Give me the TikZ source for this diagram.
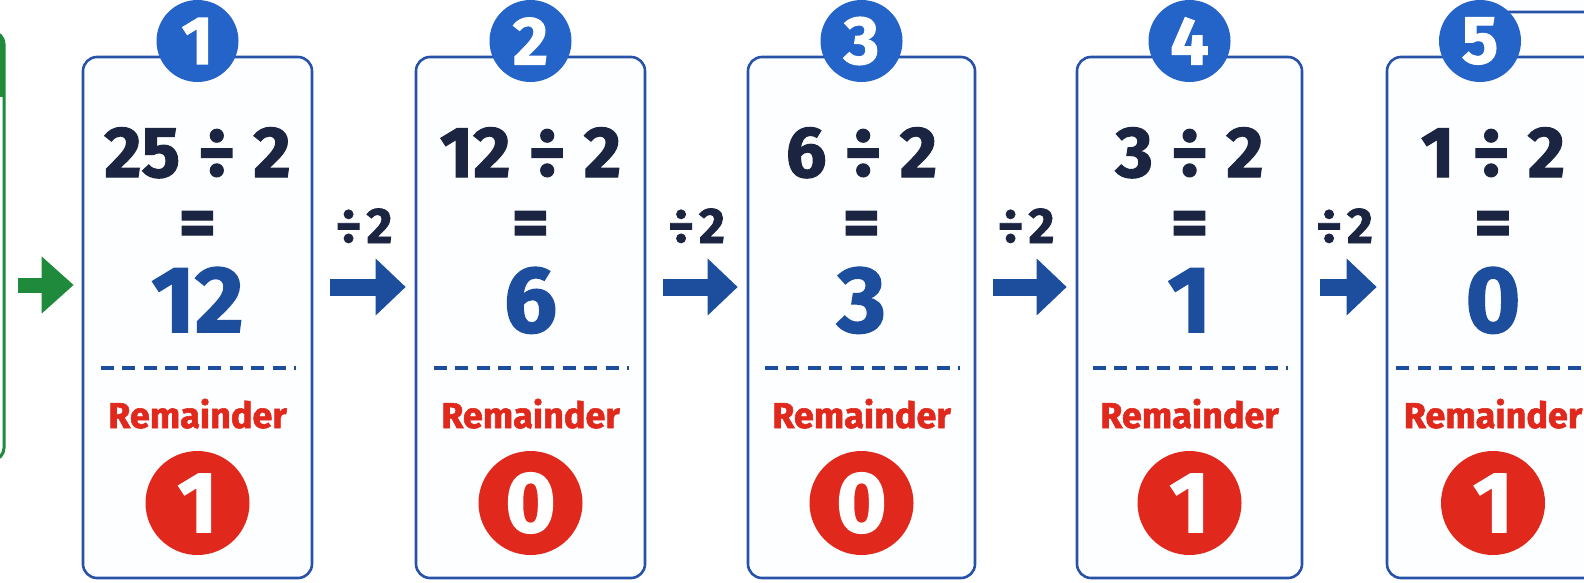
\documentclass[tikz,border=0pt]{standalone}
\usepackage{fontspec}
\setmainfont{Fira Sans}[BoldFeatures={FakeBold=1.6}]
\usetikzlibrary{arrows.meta}
\definecolor{navy}{HTML}{1B2541}
\definecolor{quotblue}{HTML}{1D4E9E}
\definecolor{boxblue}{HTML}{2752A8}
\definecolor{badgeblue}{HTML}{2463C8}
\definecolor{remred}{HTML}{E0291C}
\definecolor{inputgreen}{HTML}{1F8A3B}
\definecolor{paper}{HTML}{FDFEFF}
\tikzset{
  stagebox/.style={draw=boxblue,line width=2.6pt,fill=paper,rounded corners=14pt,minimum height=521pt,inner sep=0pt},
  badge/.style={circle,fill=badgeblue,text=white,minimum size=82pt,inner sep=0pt,font=\fontsize{68}{68}\selectfont\bfseries},
  sumtext/.style={text=navy,inner sep=0pt,anchor=base,font=\fontsize{72}{72}\selectfont\bfseries},
  quotient/.style={text=quotblue,inner sep=0pt,anchor=base,font=\fontsize{94}{94}\selectfont\bfseries},
  remlabel/.style={text=remred,inner sep=0pt,anchor=base,font=\fontsize{36}{36}\selectfont\bfseries},
  remdot/.style={circle,fill=remred,text=white,minimum size=104pt,inner sep=0pt,font=\fontsize{86}{86}\selectfont\bfseries},
  divrule/.style={draw=quotblue,line width=4pt,dash pattern=on 13pt off 8.5pt},
  flowarrow/.style={draw=quotblue,line width=17pt,-{Triangle[length=30pt,width=55pt]},shorten <=17pt,shorten >=9pt},
  divlabel/.style={text=navy,inner sep=0pt,font=\fontsize{50}{50}\selectfont\bfseries},
}
\begin{document}
\begin{tikzpicture}[x=1pt,y=-1pt]
\clip (0,0) rectangle (1584,583);
\fill[white] (0,0) rectangle (1584,583);
% input panel, cut by the left edge
\node[draw=inputgreen,line width=3pt,fill=paper,rounded corners=12pt,minimum width=44pt,minimum height=428pt,inner sep=0pt] (input) at (-18,246) {};
\begin{scope}
\clip[rounded corners=12pt] (-40,32) rectangle (4,460);
\fill[inputgreen] (-40,32) rectangle (4,97);
\end{scope}
% next panel, cut by the top edge
\draw[draw=boxblue,line width=2.6pt,fill=paper,rounded corners=14pt] (1480,-40) rectangle (1650,12);
% division steps
\foreach \n/\cx/\bx/\w/\a/\q/\r in {1/197.5/197.5/229/25/12/1,2/530.5/530.5/229/12/6/0,3/861.5/861.5/227/6/3/0,4/1189.5/1189.5/225/3/1/1,5/1493/1480/212/1/0/1} {
  \node[stagebox,minimum width=\w pt] (box\n) at (\cx,317.5) {};
  \node[badge] (badge\n) at (\bx,41) {\n};
  \node[sumtext] (sum\n) at (\cx,177) {\a\hspace{0.25em}÷\hspace{0.25em}2};
  \node[sumtext] (eq\n) at (\cx,247) {=};
  \node[quotient] (quot\n) at (\cx,332) {\q};
  \draw[divrule] (\cx-97,368) -- (\cx+98,368);
  \node[remlabel] (remtext\n) at (\cx,428) {Remainder};
  \node[remdot] (rem\n) at (\cx,503) {\r};
}
\draw[draw=inputgreen,line width=15pt,-{Triangle[length=32pt,width=55pt]},shorten <=12pt,shorten >=8pt] (input.east |- 0,285) -- (box1.west |- 0,285);
\foreach \i/\j in {1/2,2/3,3/4,4/5}
  \draw[flowarrow] (box\i.east |- 0,287) -- (box\j.west |- 0,287) node[divlabel,midway,anchor=base,yshift=44pt] {÷\hspace{0.1em}2};
\end{tikzpicture}
\end{document}
